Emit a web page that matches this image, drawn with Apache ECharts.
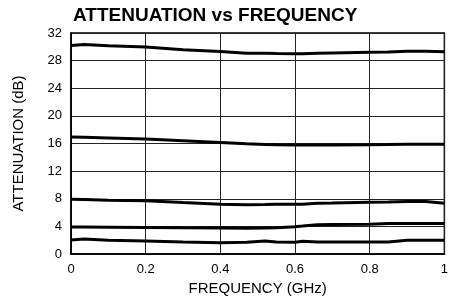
<!DOCTYPE html>
<html>
<head>
<meta charset="utf-8">
<script src="https://cdn.jsdelivr.net/npm/echarts@6/dist/echarts.min.js"></script>
<style>html,body{margin:0;padding:0;background:#fff}#c{width:451px;height:304px}</style>
</head>
<body>
<div id="c"></div>
<script>
var freq = [0, 0.035, 0.1, 0.2, 0.3, 0.4, 0.47, 0.52, 0.55, 0.6, 0.62, 0.66, 0.7, 0.8, 0.85, 0.9, 0.95, 1.0];
var att30 = [30.2, 30.34, 30.15, 29.96, 29.56, 29.31, 29.08, 29.05, 29.02, 28.98, 29.0, 29.08, 29.12, 29.22, 29.25, 29.37, 29.35, 29.27];
var att16 = [16.93, 16.9, 16.8, 16.64, 16.4, 16.15, 15.95, 15.85, 15.82, 15.8, 15.8, 15.8, 15.8, 15.82, 15.85, 15.9, 15.9, 15.9];
var att8 = [7.93, 7.9, 7.8, 7.7, 7.45, 7.22, 7.12, 7.15, 7.2, 7.2, 7.22, 7.35, 7.38, 7.5, 7.52, 7.6, 7.6, 7.35];
var att4 = [3.9, 3.9, 3.88, 3.85, 3.8, 3.77, 3.72, 3.75, 3.8, 3.96, 4.05, 4.25, 4.27, 4.3, 4.4, 4.4, 4.4, 4.4];
var att2 = [2.03, 2.17, 1.98, 1.88, 1.74, 1.62, 1.7, 1.88, 1.74, 1.7, 1.85, 1.74, 1.74, 1.74, 1.74, 1.98, 1.98, 1.98];
var yTicks = [0, 4, 8, 12, 16, 20, 24, 28, 32];
var xTicks = [0, 0.2, 0.4, 0.6, 0.8, 1];

function pairs(ys){ return freq.map(function(f,i){ return [f, ys[i]]; }); }
var allSeries = [att30, att16, att8, att4, att2].map(function(s){
  return { type:'line', data:pairs(s), symbol:'none', smooth:false,
    lineStyle:{color:'#000', width:3}, z:5 };
});

var FONT = 'Liberation Sans, Arial, sans-serif';
var chart = echarts.init(document.getElementById('c'), null, {renderer:'canvas'});
chart.setOption({
  animation:false,
  backgroundColor:'#fff',
  title:{ text:'ATTENUATION vs FREQUENCY', left:68, top:1,
    textStyle:{fontFamily:FONT, fontWeight:'bold', fontSize:19, color:'#000'} },
  grid:{ left:71, right:2, top:33, bottom:50, show:true, borderColor:'#000', borderWidth:1.5 },
  xAxis:{ type:'value', min:xTicks[0], max:xTicks[xTicks.length-1], interval:0.2,
    name:'FREQUENCY (GHz)', nameLocation:'middle', nameGap:24,
    nameTextStyle:{fontFamily:FONT, fontSize:15, color:'#000'},
    axisLine:{show:true, lineStyle:{color:'#000', width:1.5}}, axisTick:{show:false},
    axisLabel:{margin:9, fontFamily:FONT, fontSize:13, color:'#000',
      formatter:function(v){ return String(Math.round(v*10)/10); }},
    splitLine:{show:true, lineStyle:{color:'#222', width:1}} },
  yAxis:{ type:'value', min:yTicks[0], max:yTicks[yTicks.length-1], interval:4,
    name:'ATTENUATION (dB)', nameLocation:'middle', nameGap:45, nameRotate:90,
    nameTextStyle:{fontFamily:FONT, fontSize:15, color:'#000'},
    axisLine:{show:true, lineStyle:{color:'#000', width:1.5}}, axisTick:{show:false},
    axisLabel:{margin:9, fontFamily:FONT, fontSize:13, color:'#000'},
    splitLine:{show:true, lineStyle:{color:'#222', width:1}} },
  series: allSeries
});
</script>
</body>
</html>
